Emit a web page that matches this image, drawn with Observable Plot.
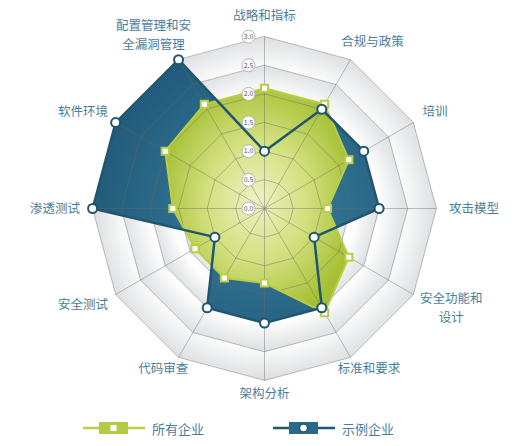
<!DOCTYPE html>
<html><head><meta charset="utf-8">
<script src="https://cdn.jsdelivr.net/npm/d3@7"></script>
<script src="https://cdn.jsdelivr.net/npm/@observablehq/plot@0.6"></script>
<style>
html,body{margin:0;padding:0;background:#fff;font-family:"Noto Sans CJK SC","Noto Sans",sans-serif;}
#chart svg{display:block;}
#legend{position:relative;width:518px;height:36px;font-size:13px;color:#4a7d9b;}
.item{position:absolute;top:8px;display:flex;align-items:center;height:20px;}
.item svg{display:block;margin-right:7px;}
</style></head><body>
<div id="chart"></div>
<div id="legend"></div>
<script>
// ---- data ----
const axes = ["战略和指标","合规与政策","培训","攻击模型","安全功能和\n设计","标准和要求","架构分析","代码审查","安全测试","渗透测试","软件环境","配置管理和安\n全漏洞管理"];
const allFirms = [2.1,2.1,1.7,1.1,1.7,2.1,1.3,1.4,1.4,1.6,2.0,2.1];
const sampleFirm = [1.0,2.0,2.0,2.0,1.0,2.0,2.0,2.0,1.0,3.0,3.0,3.0];
const levels = [0.5,1.0,1.5,2.0,2.5,3.0];
const tickLabels = ["0.0","0.5","1.0","1.5","2.0","2.5","3.0"];
const seriesNames = ["所有企业","示例企业"];

// ---- layout ----
const W = 518, H = 410, U = 57.3, CX = 264, CY = 208;
const ang = i => i * Math.PI / 6;
const toPts = vals => vals.map((v, i) => ({i, v, x: v * Math.sin(ang(i)), y: v * Math.cos(ang(i))}));
const greenPts = toPts(allFirms);
const bluePts = toPts(sampleFirm);
const ringPts = levels.slice().reverse().flatMap(L => axes.map((_, i) => ({level: L, x: L * Math.sin(ang(i)), y: L * Math.cos(ang(i))})));
const spokes = axes.map((_, i) => ({x2: 3 * Math.sin(ang(i)), y2: 3 * Math.cos(ang(i))}));
const FS = 12.5, LH = 18.5;
const labelData = axes.flatMap((name, i) => {
  const a = ang(i), lines = name.split("\n");
  const R = Math.cos(a) < -0.6 ? 3.1 : 3.22;
  const w = Math.max(...lines.map(l => l.length)) * FS, h = lines.length * 15;
  const cx = R * Math.sin(a) + Math.sin(a) * w / 2 / U;
  const cy = R * Math.cos(a) + Math.cos(a) * h / 2 / U;
  return lines.map((t, k) => ({name: t, x: cx, y: cy - ((k - (lines.length - 1) / 2) * LH) / U}));
});

const NS = "http://www.w3.org/2000/svg";
function defs() {
  const d = document.createElementNS(NS, "defs");
  d.innerHTML = `
  <radialGradient id="ringGrad" cx="50%" cy="50%" r="50%">
    <stop offset="0" stop-color="#ffffff"/><stop offset="0.8" stop-color="#fdfdfd"/><stop offset="1" stop-color="#dcdee0"/>
  </radialGradient>
  <radialGradient id="greenGrad" cx="50%" cy="50%" r="55%">
    <stop offset="0" stop-color="#edf2c4"/><stop offset="0.5" stop-color="#d2e07e"/><stop offset="1" stop-color="#a5bf32"/>
  </radialGradient>
  <radialGradient id="blueGrad" cx="60%" cy="55%" r="60%">
    <stop offset="0" stop-color="#3a7f9e"/><stop offset="1" stop-color="#225b7b"/>
  </radialGradient>`;
  return d;
}

const GREEN = "#b8ce48", BLUE = "#22566f";
const chart = Plot.plot({
  width: W, height: H, margin: 0,
  x: {domain: [-CX / U, (W - CX) / U], range: [0, W], axis: null},
  y: {domain: [-(H - CY) / U, CY / U], range: [H, 0], axis: null},
  style: {fontFamily: '"Noto Sans CJK SC","Noto Sans",sans-serif', background: "#fff"},
  marks: [
    defs,
    Plot.line(ringPts, {x: "x", y: "y", z: "level", curve: "linear-closed", fill: "url(#ringGrad)", stroke: "none"}),
    Plot.line(bluePts, {x: "x", y: "y", curve: "linear-closed", fill: "url(#blueGrad)", stroke: "none"}),
    Plot.line(greenPts, {x: "x", y: "y", curve: "linear-closed", fill: "url(#greenGrad)", stroke: "none"}),
    Plot.link(spokes, {x1: 0, y1: 0, x2: "x2", y2: "y2", stroke: "#6a6a6a", strokeOpacity: 0.42, strokeWidth: 1}),
    Plot.line(ringPts, {x: "x", y: "y", z: "level", curve: "linear-closed", stroke: "#6a6a6a", strokeOpacity: 0.42, strokeWidth: 1}),
    Plot.line(greenPts, {x: "x", y: "y", curve: "linear-closed", stroke: GREEN, strokeWidth: 2}),
    Plot.line(bluePts, {x: "x", y: "y", curve: "linear-closed", stroke: BLUE, strokeWidth: 2.5}),
    Plot.dot(greenPts, {x: "x", y: "y", symbol: "square", r: 4, fill: "white", stroke: GREEN, strokeWidth: 2}),
    Plot.dot(bluePts, {x: "x", y: "y", r: 4.5, fill: "white", stroke: BLUE, strokeWidth: 2}),
    Plot.dot(tickLabels, {x: 0, y: d => +d, dx: -16, r: 6.5, fill: "white", stroke: "#b5b5b5", strokeWidth: 1}),
    Plot.text(tickLabels, {x: 0, y: d => +d, dx: -16, text: d => d, fontSize: 7, fill: "#555"}),
    Plot.text(labelData, {x: "x", y: "y", text: "name", fontSize: FS, fill: "#4a7d9b"})
  ]
});
document.getElementById("chart").appendChild(chart);

// ---- legend ----
const legend = document.getElementById("legend");
const legendItems = [
  {name: seriesNames[0], color: GREEN, box: "#b3ca46", left: 83, marker: "square"},
  {name: seriesNames[1], color: BLUE, box: "#2a6a88", left: 273, marker: "circle"}
];
legendItems.forEach(it => {
  const div = document.createElement("div");
  div.className = "item";
  div.style.left = it.left + "px";
  const m = it.marker === "square"
    ? `<rect x="27" y="6.5" width="7" height="7" fill="white" stroke="${it.color}" stroke-width="1"/>`
    : `<circle cx="30.5" cy="10" r="4" fill="white" stroke="${it.color}" stroke-width="1.5"/>`;
  div.innerHTML = `<svg width="62" height="20"><line x1="0" y1="10" x2="62" y2="10" stroke="${it.color}" stroke-width="2.5"/>
    <rect x="16" y="4" width="29" height="12" fill="${it.box}"/>${m}</svg><span>${it.name}</span>`;
  legend.appendChild(div);
});
</script>
</body></html>
